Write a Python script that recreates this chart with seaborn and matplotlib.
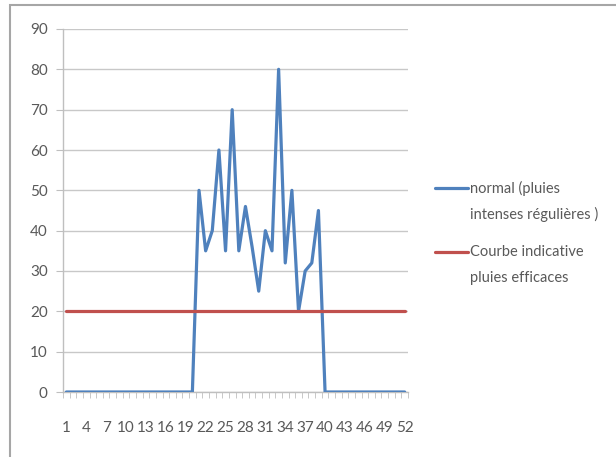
import matplotlib
matplotlib.use("Agg")
import matplotlib.pyplot as plt
import seaborn as sns
import pandas as pd
import numpy as np
from matplotlib.lines import Line2D
from matplotlib.patches import Rectangle

# Weekly values (weeks 1..52)
weeks = list(range(1, 53))
normal = [0] * 20 + [50, 35, 40, 60, 35, 70, 35, 46, 36, 25,
                     40, 35, 80, 32, 50, 20, 30, 32, 45] + [0] * 13
seuil = [20] * 52
xtick_labels = list(range(1, 53, 3))
ytick_values = list(range(0, 91, 10))

series_names = ["normal", "seuil"]
series_colors = ["#4F81BD", "#C0504D"]
legend_lines = [["normal (pluies", "intenses régulières )"],
                ["Courbe indicative", "pluies efficaces"]]

df = pd.DataFrame({
    "semaine": weeks * 2,
    "valeur": normal + seuil,
    "serie": [series_names[0]] * 52 + [series_names[1]] * 52,
})

sns.set_style("white")
plt.rcParams["font.family"] = ["Lato", "DejaVu Sans"]

W, H = 616, 457
fig = plt.figure(figsize=(W / 100, H / 100), dpi=100)
ax = fig.add_axes([63 / W, 1 - 392 / H, (408 - 63) / W, (392 - 29) / H])

palette = dict(zip(series_names, series_colors))
sns.lineplot(data=df, x="semaine", y="valeur", hue="serie", palette=palette,
             linewidth=2.3, ax=ax, legend=False, zorder=3)

ax.set_xlim(0.5, 52.5)
ax.set_ylim(0, 90)
ax.set_yticks(ytick_values)
ax.set_xticks(xtick_labels)
ax.set_xticks(np.arange(0.5, 53, 1), minor=True)
ax.set_xlabel("")
ax.set_ylabel("")

ax.grid(axis="y", color="#c8c8c8", linewidth=1.0)
ax.grid(axis="x", visible=False)
for side in ["top", "right"]:
    ax.spines[side].set_visible(False)
for side in ["left", "bottom"]:
    ax.spines[side].set_color("#bfbfbf")
    ax.spines[side].set_linewidth(1.0)

ax.tick_params(axis="y", which="major", left=True, length=5, color="#bfbfbf",
               labelsize=11, labelcolor="#595959", pad=6)
ax.tick_params(axis="x", which="major", bottom=False, labelsize=11,
               labelcolor="#595959", pad=17.5)
ax.tick_params(axis="x", which="minor", bottom=True, length=4, color="#bfbfbf")

# Legend: key line aligned with the first line of each entry
for i, (color, lines) in enumerate(zip(series_colors, legend_lines)):
    y0 = 188 + i * 64
    fig.add_artist(Line2D([435 / W, 468 / W], [1 - y0 / H, 1 - y0 / H],
                          transform=fig.transFigure, color=color,
                          linewidth=2.3))
    for j, txt in enumerate(lines):
        fig.text(470 / W, 1 - (y0 + j * 26) / H, txt, fontsize=10.5,
                 color="#595959", ha="left", va="center")

# Chart frame
fig.patches.append(Rectangle((10 / W, -0.1), 1.2, 1 - 5 / H + 0.1,
                             transform=fig.transFigure, fill=False,
                             edgecolor="#a6a6a6", linewidth=1.5))

fig.savefig("out.png", dpi=100, facecolor="white")
